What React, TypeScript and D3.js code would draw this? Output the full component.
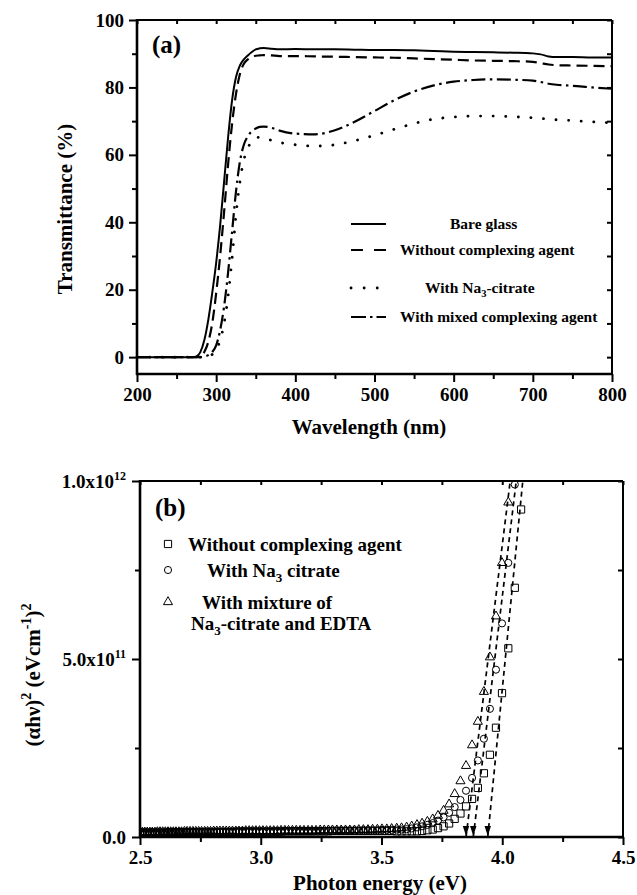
import { useEffect, useRef } from "react";
import * as d3 from "d3";

// ---- panel (a): transmittance spectra ----
const wavelengths = [
  200, 270, 275, 280, 285, 290, 295, 300, 305, 310, 315, 320, 325, 330, 335, 340, 345, 350, 355, 360,
  370, 380, 400, 425, 450, 475, 500, 525, 550, 575, 600, 625, 650, 675, 700, 710, 720, 730, 750, 775, 800,
];
const bareGlass = [
  0, 0, 0.2, 1.5, 5, 11, 19, 28, 39, 52, 65, 76, 83, 86.5, 88.3, 89.5, 90.5, 91.3, 91.6, 91.7,
  91.5, 91.3, 91.4, 91.3, 91.3, 91.2, 91.1, 91.1, 91.0, 90.8, 90.6, 90.5, 90.4, 90.3, 90.1, 89.8, 89.2, 89.0, 89.0, 88.9, 88.9,
];
const withoutAgent = [
  0, 0, 0, 0.3, 1.5, 4.5, 10, 19, 30, 43, 57, 69, 78, 84, 87, 88.3, 89, 89.4, 89.5, 89.6,
  89.5, 89.3, 89.3, 89.2, 89.1, 89.0, 88.9, 88.8, 88.6, 88.4, 88.2, 88.0, 87.9, 87.8, 87.6, 87.2, 86.8, 86.6, 86.5, 86.4, 86.3,
];
const naCitrate = [
  0, 0, 0, 0, 0, 0.2, 0.8, 2, 5, 10, 18, 29, 42, 52, 58.5, 62, 64, 65, 65.2, 65,
  64.3, 63.7, 63.0, 62.6, 63.0, 64.2, 65.8, 67.6, 69.3, 70.6, 71.2, 71.5, 71.5, 71.3, 71.0, 70.8, 70.6, 70.4, 70.2, 69.8, 69.5,
];
const mixedAgent = [
  0, 0, 0, 0, 0.2, 0.6, 1.5, 3.5, 8, 15, 25, 37, 49, 58, 63, 65.5, 67, 67.8, 68.3, 68.4,
  68, 67.2, 66.3, 66.1, 67.3, 69.8, 73, 76.2, 78.8, 80.6, 81.7, 82.2, 82.4, 82.3, 82.0, 81.6, 81.1, 80.8, 80.5, 80.0, 79.6,
];
const transTicks = [0, 20, 40, 60, 80, 100];
const transMinor = [10, 30, 50, 70, 90];
const wlTicks = [200, 300, 400, 500, 600, 700, 800];
const wlMinor = [250, 350, 450, 550, 650, 750];

// ---- panel (b): (alpha h nu)^2 vs photon energy, values in 1e11 units ----
const energies = [
  4.078, 4.052, 4.025, 3.999, 3.974, 3.949, 3.924, 3.899, 3.875, 3.850,
  3.827, 3.803, 3.780, 3.757, 3.734, 3.712, 3.690, 3.668, 3.647, 3.625,
  3.604, 3.583, 3.563, 3.542, 3.522, 3.502, 3.483, 3.463, 3.444, 3.425,
  3.406, 3.388, 3.369, 3.351, 3.333, 3.315, 3.297, 3.280, 3.263, 3.246,
  3.229, 3.212, 3.196, 3.179, 3.163, 3.147, 3.131, 3.115, 3.100, 3.084,
  3.069, 3.054, 3.039, 3.024, 3.009, 2.995, 2.980, 2.966, 2.952, 2.938,
  2.924, 2.910, 2.897, 2.883, 2.870, 2.857, 2.844, 2.831, 2.818, 2.805,
  2.792, 2.780, 2.768, 2.755, 2.743, 2.731, 2.719, 2.707, 2.695, 2.684,
  2.672, 2.661, 2.649, 2.638, 2.627, 2.616, 2.605, 2.594, 2.583, 2.572,
  2.562, 2.551, 2.541, 2.530, 2.520, 2.510, 2.500,
];
const squareVals = [
  9.2, 7.0, 5.3, 4.04, 3.07, 2.31, 1.79, 1.38, 1.07, 0.86,
  0.66, 0.51, 0.38, 0.30, 0.25, 0.21, 0.19, 0.17, 0.16, 0.16,
  0.16, 0.16, 0.16, 0.17, 0.17, 0.17, 0.17, 0.17, 0.17, 0.17,
  0.17, 0.17, 0.17, 0.17, 0.17, 0.17, 0.17, 0.16, 0.16, 0.16,
  0.16, 0.16, 0.16, 0.16, 0.16, 0.16, 0.16, 0.16, 0.16, 0.15,
  0.15, 0.15, 0.15, 0.15, 0.15, 0.15, 0.15, 0.15, 0.15, 0.15,
  0.15, 0.15, 0.15, 0.14, 0.14, 0.14, 0.14, 0.14, 0.14, 0.14,
  0.14, 0.14, 0.14, 0.14, 0.13, 0.13, 0.13, 0.13, 0.13, 0.13,
  0.13, 0.13, 0.13, 0.13, 0.13, 0.13, 0.12, 0.12, 0.12, 0.12,
  0.12, 0.12, 0.12, 0.12, 0.12, 0.12, 0.12,
];
const circleVals = [
  null, 9.9, 7.7, 6.0, 4.7, 3.6, 2.76, 2.15, 1.66, 1.30,
  1.04, 0.84, 0.68, 0.55, 0.46, 0.39, 0.34, 0.30, 0.27, 0.24,
  0.22, 0.21, 0.21, 0.20, 0.20, 0.20, 0.19, 0.19, 0.19, 0.19,
  0.18, 0.18, 0.18, 0.18, 0.18, 0.18, 0.17, 0.17, 0.17, 0.17,
  0.17, 0.16, 0.16, 0.16, 0.16, 0.16, 0.16, 0.16, 0.16, 0.16,
  0.16, 0.16, 0.15, 0.15, 0.15, 0.15, 0.15, 0.15, 0.15, 0.15,
  0.15, 0.15, 0.14, 0.14, 0.14, 0.14, 0.14, 0.14, 0.14, 0.14,
  0.14, 0.14, 0.14, 0.13, 0.13, 0.13, 0.13, 0.13, 0.13, 0.13,
  0.13, 0.13, 0.13, 0.13, 0.13, 0.13, 0.12, 0.12, 0.12, 0.12,
  0.12, 0.12, 0.12, 0.12, 0.12, 0.12, 0.12,
];
const triangleVals = [
  null, null, 9.4, 7.7, 6.2, 5.05, 4.08, 3.24, 2.58, 2.00,
  1.57, 1.21, 0.92, 0.74, 0.60, 0.50, 0.43, 0.38, 0.34, 0.30,
  0.27, 0.25, 0.24, 0.23, 0.22, 0.22, 0.21, 0.21, 0.20, 0.20,
  0.20, 0.19, 0.19, 0.19, 0.19, 0.19, 0.19, 0.19, 0.19, 0.19,
  0.18, 0.18, 0.18, 0.18, 0.18, 0.18, 0.18, 0.18, 0.18, 0.18,
  0.17, 0.17, 0.17, 0.17, 0.17, 0.17, 0.17, 0.17, 0.17, 0.17,
  0.16, 0.16, 0.16, 0.16, 0.16, 0.16, 0.16, 0.16, 0.16, 0.16,
  0.15, 0.15, 0.15, 0.15, 0.15, 0.15, 0.15, 0.15, 0.15, 0.15,
  0.14, 0.14, 0.14, 0.14, 0.14, 0.14, 0.14, 0.14, 0.14, 0.14,
  0.13, 0.13, 0.13, 0.13, 0.13, 0.13, 0.13,
];
// linear fits: x-intercept (band gap) and energy where the fit meets the top of the frame
const fitGap = [3.94, 3.88, 3.85];
const fitTop = [4.085, 4.058, 4.033];
const energyTicks = [2.5, 3.0, 3.5, 4.0, 4.5];
const energyMinor = [2.75, 3.25, 3.75, 4.25];
const absTicks = [0, 5, 10];
const absMinor = [2.5, 7.5];

const FONT = "'Liberation Serif', 'Times New Roman', serif";

type Sel = d3.Selection<SVGGElement, unknown, null, undefined>;

function styleAxis(sel: Sel, size = 19) {
  sel.select(".domain").remove();
  sel.selectAll(".tick line").attr("stroke", "#000").attr("stroke-width", 2);
  sel
    .selectAll(".tick text")
    .attr("fill", "#000")
    .attr("font-family", FONT)
    .attr("font-size", size)
    .attr("font-weight", "bold");
}

function frame(g: Sel, l: number, r: number, t: number, b: number) {
  g.append("line").attr("x1", l).attr("x2", r).attr("y1", t).attr("y2", t).attr("stroke", "#000").attr("stroke-width", 2);
  g.append("line").attr("x1", r).attr("x2", r).attr("y1", t).attr("y2", b).attr("stroke", "#000").attr("stroke-width", 2);
  g.append("line").attr("x1", l).attr("x2", l).attr("y1", t - 1).attr("y2", b + 1).attr("stroke", "#000").attr("stroke-width", 2.6);
  g.append("line").attr("x1", l - 1).attr("x2", r + 1).attr("y1", b).attr("y2", b).attr("stroke", "#000").attr("stroke-width", 2.6);
}

function boldText(g: Sel, x: number, y: number, size: number, anchor = "start") {
  return g
    .append("text")
    .attr("x", x)
    .attr("y", y)
    .attr("font-family", FONT)
    .attr("font-size", size)
    .attr("font-weight", "bold")
    .attr("text-anchor", anchor)
    .attr("fill", "#000");
}

const App = () => {
  const svgRef = useRef<SVGSVGElement | null>(null);

  useEffect(() => {
    if (!svgRef.current) return;
    const svg = d3.select(svgRef.current);
    svg.selectAll("*").remove();

    // ================= panel (a) =================
    const A = { left: 137, right: 612, top: 20, bottom: 374 };
    const xA = d3.scaleLinear().domain([200, 800]).range([A.left, A.right]);
    const yA = d3.scaleLinear().domain([-5, 100]).range([A.bottom, A.top]);
    const ga = svg.append("g") as unknown as Sel;

    ga.append("g").attr("transform", `translate(${A.left},0)`)
      .call(d3.axisLeft(yA).tickValues(transTicks).tickSize(8).tickPadding(5).tickFormat(d3.format("d")))
      .call((s) => styleAxis(s as unknown as Sel));
    ga.append("g").attr("transform", `translate(${A.left},0)`)
      .call(d3.axisLeft(yA).tickValues(transMinor).tickSize(5).tickFormat(() => ""))
      .call((s) => styleAxis(s as unknown as Sel));
    ga.append("g").attr("transform", `translate(${A.right},0)`)
      .call(d3.axisLeft(yA).tickValues([...transTicks, ...transMinor]).tickSize(5).tickFormat(() => ""))
      .call((s) => styleAxis(s as unknown as Sel));
    ga.append("g").attr("transform", `translate(0,${A.bottom})`)
      .call(d3.axisBottom(xA).tickValues(wlTicks).tickSize(8).tickPadding(6).tickFormat(d3.format("d")))
      .call((s) => styleAxis(s as unknown as Sel));
    ga.append("g").attr("transform", `translate(0,${A.bottom})`)
      .call(d3.axisBottom(xA).tickValues(wlMinor).tickSize(5).tickFormat(() => ""))
      .call((s) => styleAxis(s as unknown as Sel));
    ga.append("g").attr("transform", `translate(0,${A.top})`)
      .call(d3.axisBottom(xA).tickValues([...wlTicks, ...wlMinor]).tickSize(4).tickFormat(() => ""))
      .call((s) => styleAxis(s as unknown as Sel));
    frame(ga, A.left, A.right, A.top, A.bottom);

    const lineA = (vals: number[]) =>
      d3.line<number>().x((_, i) => xA(wavelengths[i])).y((d) => yA(d)).curve(d3.curveMonotoneX)(vals) as string;

    const seriesA = [
      { vals: bareGlass, dash: null, cap: "butt", w: 2 },
      { vals: withoutAgent, dash: "11,6", cap: "butt", w: 2.2 },
      { vals: naCitrate, dash: "0.1,12.5", cap: "round", w: 2.8 },
      { vals: mixedAgent, dash: "14,4.5,2.5,4.5", cap: "butt", w: 2.2 },
    ];
    seriesA.forEach((s) => {
      ga.append("path")
        .attr("d", lineA(s.vals))
        .attr("fill", "none")
        .attr("stroke", "#000")
        .attr("stroke-width", s.w)
        .attr("stroke-linecap", s.cap)
        .attr("stroke-dasharray", s.dash);
    });

    // legend (a)
    const legY = [224, 250, 288, 317];
    const legDash = [null, "12,11", "0.1,13", "15,4,2.5,4"];
    const legX = [450, 400, 425, 400];
    seriesA.forEach((s, i) => {
      ga.append("line")
        .attr("x1", 351).attr("x2", 386)
        .attr("y1", legY[i]).attr("y2", legY[i])
        .attr("stroke", "#000").attr("stroke-width", s.w)
        .attr("stroke-linecap", s.cap)
        .attr("stroke-dasharray", legDash[i]);
    });
    boldText(ga, legX[0], legY[0] + 5, 15.5).text("Bare glass");
    boldText(ga, legX[1], legY[1] + 5, 15.5).text("Without complexing agent");
    const na = boldText(ga, legX[2], legY[2] + 5, 15.5);
    na.append("tspan").text("With Na");
    na.append("tspan").attr("font-size", 10.5).attr("dy", 4).text("3");
    na.append("tspan").attr("dy", -4).text("-citrate");
    boldText(ga, legX[3], legY[3] + 5, 15.5).text("With mixed complexing agent");

    boldText(ga, 152, 53, 25).text("(a)");
    boldText(ga, 369, 434, 21, "middle").text("Wavelength (nm)");
    boldText(ga, 0, 0, 21, "middle")
      .attr("transform", `translate(72,${(A.top + A.bottom) / 2 + 12}) rotate(-90)`)
      .text("Transmittance (%)");

    // ================= panel (b) =================
    const B = { left: 140, right: 623, top: 481, bottom: 837 };
    const xB = d3.scaleLinear().domain([2.5, 4.5]).range([B.left, B.right]);
    const yB = d3.scaleLinear().domain([0, 10]).range([B.bottom, B.top]);
    const gb = svg.append("g") as unknown as Sel;

    const yAxisB = gb.append("g").attr("transform", `translate(${B.left},0)`)
      .call(d3.axisLeft(yB).tickValues(absTicks).tickSize(8).tickPadding(6).tickFormat(() => ""))
      .call((s) => styleAxis(s as unknown as Sel));
    yAxisB.selectAll<SVGTextElement, number>(".tick text").each(function (d) {
      const t = d3.select(this);
      if (d === 0) {
        t.text("0.0");
        return;
      }
      const mant = d === 10 ? "1.0" : d.toFixed(1);
      const exp = d === 10 ? "12" : "11";
      t.append("tspan").text(`${mant}x10`);
      t.append("tspan").attr("font-size", 12).attr("dy", -8).text(exp);
    });
    gb.append("g").attr("transform", `translate(${B.left},0)`)
      .call(d3.axisLeft(yB).tickValues(absMinor).tickSize(5).tickFormat(() => ""))
      .call((s) => styleAxis(s as unknown as Sel));
    gb.append("g").attr("transform", `translate(${B.right},0)`)
      .call(d3.axisLeft(yB).tickValues([...absTicks, ...absMinor]).tickSize(5).tickFormat(() => ""))
      .call((s) => styleAxis(s as unknown as Sel));
    gb.append("g").attr("transform", `translate(0,${B.bottom})`)
      .call(d3.axisBottom(xB).tickValues(energyTicks).tickSize(8).tickPadding(6).tickFormat(d3.format(".1f")))
      .call((s) => styleAxis(s as unknown as Sel));
    gb.append("g").attr("transform", `translate(0,${B.bottom})`)
      .call(d3.axisBottom(xB).tickValues(energyMinor).tickSize(5).tickFormat(() => ""))
      .call((s) => styleAxis(s as unknown as Sel));
    gb.append("g").attr("transform", `translate(0,${B.top})`)
      .call(d3.axisBottom(xB).tickValues([...energyTicks, ...energyMinor]).tickSize(4).tickFormat(() => ""))
      .call((s) => styleAxis(s as unknown as Sel));

    svg.append("defs").append("clipPath").attr("id", "clipB")
      .append("rect").attr("x", B.left).attr("y", B.top).attr("width", B.right - B.left).attr("height", B.bottom - B.top);

    const plot = gb.append("g").attr("clip-path", "url(#clipB)");

    // fit lines + arrows at the intercepts
    fitGap.forEach((eg, i) => {
      plot.append("line")
        .attr("x1", xB(eg)).attr("y1", yB(0))
        .attr("x2", xB(fitTop[i])).attr("y2", yB(10))
        .attr("stroke", "#000").attr("stroke-width", 1.7)
        .attr("stroke-dasharray", "5,4");
      const cx = xB(eg);
      const tip = yB(0) - 1;
      plot.append("path")
        .attr("d", `M${cx - 3.2},${tip - 10}L${cx + 3.2},${tip - 10}L${cx},${tip}Z`)
        .attr("fill", "#000");
    });

    const markerSeries = [
      { vals: squareVals, type: d3.symbolSquare, size: 52 },
      { vals: circleVals, type: d3.symbolCircle, size: 40 },
      { vals: triangleVals, type: d3.symbolTriangle, size: 36 },
    ];
    markerSeries.forEach((s) => {
      const sym = d3.symbol().type(s.type).size(s.size);
      plot.append("g")
        .selectAll("path")
        .data(energies.map((e, i) => ({ e, v: s.vals[i] })).filter((d) => d.v !== null))
        .enter()
        .append("path")
        .attr("d", sym() as string)
        .attr("transform", (d) => `translate(${xB(d.e)},${yB(d.v as number)})`)
        .attr("fill", "none")
        .attr("stroke", "#000")
        .attr("stroke-width", 1);
    });

    frame(gb, B.left, B.right, B.top, B.bottom);

    // legend (b)
    const legBY = [544, 570, 602];
    markerSeries.forEach((s, i) => {
      gb.append("path")
        .attr("d", d3.symbol().type(s.type).size(s.size)() as string)
        .attr("transform", `translate(168,${legBY[i]})`)
        .attr("fill", "none").attr("stroke", "#000").attr("stroke-width", 1);
    });
    boldText(gb, 188, 551, 19).text("Without complexing agent");
    const t2 = boldText(gb, 207, 577, 19);
    t2.append("tspan").text("With Na");
    t2.append("tspan").attr("font-size", 13).attr("dy", 5).text("3");
    t2.append("tspan").attr("dy", -5).text(" citrate");
    boldText(gb, 202, 609, 19).text("With mixture of");
    const t4 = boldText(gb, 191, 630, 19);
    t4.append("tspan").text("Na");
    t4.append("tspan").attr("font-size", 13).attr("dy", 5).text("3");
    t4.append("tspan").attr("dy", -5).text("-citrate and EDTA");

    boldText(gb, 155, 516, 25).text("(b)");
    boldText(gb, 380, 890, 21, "middle").text("Photon energy (eV)");
    const yt = boldText(gb, 0, 0, 21, "middle").attr("transform", `translate(40,675) rotate(-90)`);
    yt.append("tspan").text("(\u03b1h\u03bd)");
    yt.append("tspan").attr("font-size", 14).attr("dy", -9).text("2");
    yt.append("tspan").attr("dy", 9).text("  (eVcm");
    yt.append("tspan").attr("font-size", 14).attr("dy", -9).text("-1");
    yt.append("tspan").attr("dy", 9).text(")");
    yt.append("tspan").attr("font-size", 14).attr("dy", -9).text("2");
  }, []);

  return (
    <div style={{ position: "absolute", left: 0, top: 0, background: "#fff" }}>
      <svg ref={svgRef} width={637} height={895} style={{ display: "block", background: "#fff" }} />
    </div>
  );
};

export default App;
